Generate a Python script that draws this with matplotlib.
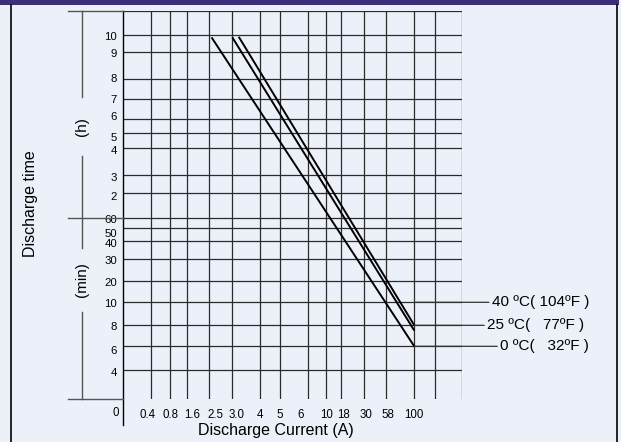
import numpy as np
import matplotlib
matplotlib.use('Agg')
import matplotlib.pyplot as plt
from matplotlib.transforms import blended_transform_factory, ScaledTranslation
from matplotlib.patches import Rectangle
from matplotlib.lines import Line2D

plt.rcParams['font.family'] = ['Liberation Sans', 'DejaVu Sans']

# discharge current axis (A): tick values and where they sit on the grid (fraction of width)
x_scale_values = [0, 0.4, 0.8, 1.6, 2.5, 3.0, 4, 5, 6, 10, 18, 30, 58, 100, 130, 160]
x_scale_pos = [0, 0.0819, 0.1389, 0.1874, 0.2524, 0.3221, 0.4048, 0.4631, 0.5467,
               0.5981, 0.6442, 0.7122, 0.7763, 0.8599, 0.9220, 1.0]
x_tick_values = [0.4, 0.8, 1.6, 2.5, 3.0, 4, 5, 6, 10, 18, 30, 58, 100]
x_tick_labels = ['0.4', '0.8', '1.6', '2.5', '3.0', '4', '5', '6', '10', '18', '30', '58', '100']

# discharge time axis (minutes): hours above 60 min
y_scale_values = [0, 4, 6, 8, 10, 20, 30, 40, 50, 60, 120, 180, 240, 300, 360, 420, 480, 540, 600, 660]
y_scale_pos = [0, 0.0747, 0.1358, 0.1899, 0.2492, 0.3034, 0.3616, 0.4064, 0.4399, 0.4673,
               0.5317, 0.5781, 0.6461, 0.6863, 0.7209, 0.7724, 0.8247, 0.8936, 0.9389, 1.0]
y_tick_values = [4, 6, 8, 10, 20, 30, 40, 50, 60, 120, 180, 240, 300, 360, 420, 480, 540, 600]
y_tick_labels = ['4', '6', '8', '10', '20', '30', '40', '50', '60',
                 '2', '3', '4', '5', '6', '7', '8', '9', '10']

# discharge curves: (current A, time min) at both ends
temps = ['40 ºC( 104ºF )', '25 ºC(   77ºF )', '0 ºC(   32ºF )']
curve_current = [[3.23, 100], [3.0, 100], [2.56, 100]]
curve_time = [[593, 8], [591, 7.5], [591, 6]]
label_level = [10, 8, 6]          # minutes, where each label is pointed at
label_x = [1.0887, 1.0748, 1.1132]  # axes fraction

# small hand-set nudges of the tick labels (pixels), as in the original drawing
x_label_dx = [-3, -0.3, 5.8, 6.3, 3.9, -0.3, -0.3, -7.5, 1, 2.7, 1.4, 2.3, -0.6]
y_label_dy = [1.8, 3.5, 0.5, 0.9, 0.4, 1.3, 1.7, 4.7, 1.8, 3.1, 2.5, 1.2, 4.0, -3.0, 0, -0.7, 1.0, 0.8]

BG = '#ECF0F9'
GRID = '#2b2b2b'


def fwd_x(v):
    return np.interp(v, x_scale_values, x_scale_pos)


def inv_x(p):
    return np.interp(p, x_scale_pos, x_scale_values)


def fwd_y(v):
    return np.interp(v, y_scale_values, y_scale_pos)


def inv_y(p):
    return np.interp(p, y_scale_pos, y_scale_values)


fig = plt.figure(figsize=(6.21, 4.42), dpi=100, facecolor=BG)
W, H = 621, 442
ax = fig.add_axes([123.3 / W, 1 - 399 / H, 338.4 / W, 388 / H])
ax.set_facecolor(BG)
ax.set_xscale('function', functions=(fwd_x, inv_x))
ax.set_yscale('function', functions=(fwd_y, inv_y))
ax.set_xlim(0, 160)
ax.set_ylim(0, 660)

ax.set_xticks(x_tick_values)
ax.set_xticklabels(x_tick_labels, fontsize=8.3)
ax.set_xticks([130, 160], minor=True)
ax.set_yticks(y_tick_values)
ax.set_yticklabels(y_tick_labels, fontsize=8.2)
ax.set_yticks([660], minor=True)
ax.tick_params(which='both', length=0)
ax.tick_params(axis='x', pad=7)
ax.tick_params(axis='y', pad=4.5)
ax.grid(True, which='both', color=GRID, linewidth=0.9)
for s in ax.spines.values():
    s.set_visible(False)
ax.set_axisbelow(True)

for lab, dx in zip(ax.get_xticklabels(), x_label_dx):
    lab.set_transform(lab.get_transform() + ScaledTranslation(dx / 100, 0, fig.dpi_scale_trans))
for lab, dy in zip(ax.get_yticklabels(), y_label_dy):
    lab.set_transform(lab.get_transform() + ScaledTranslation(0, -dy / 100, fig.dpi_scale_trans))

# x origin label
ax.annotate('0', xy=(0, 0), xytext=(-3, -10), textcoords='offset points',
            ha='right', va='center', fontsize=8.3)

# left axis line running below the grid
ax.plot([0, 0], [1, -0.067], transform=ax.transAxes, color='black', lw=1.0, clip_on=False)

# curves
for cur, t in zip(curve_current, curve_time):
    ax.plot(cur, t, color='black', lw=1.4, solid_capstyle='butt')

# labels with leader lines
tr = blended_transform_factory(ax.transAxes, ax.transData)
for name, lvl, lx in zip(temps, label_level, label_x):
    ax.annotate(name, xy=(100, lvl), xycoords='data', xytext=(lx, lvl), textcoords=tr,
                ha='left', va='center', fontsize=11, annotation_clip=False,
                arrowprops=dict(arrowstyle='-', color='#333333', lw=0.9, shrinkA=0, shrinkB=0))

# hour / minute brackets on the left
bx = -0.122
for lvl in [660, 60, 0]:
    ax.plot([-0.163, 0], [lvl, lvl], transform=tr, color='#555555', lw=1.0, clip_on=False)
for y0, y1 in [(1.0, 0.778), (0.626, 0.389), (0.224, 0.0)]:
    ax.plot([bx, bx], [y0, y1], transform=ax.transAxes, color='#555555', lw=1.0, clip_on=False)
ax.text(bx, 0.7023, '(h)', transform=ax.transAxes, rotation=90, ha='center', va='center', fontsize=11)
ax.text(bx, 0.3067, '(min)', transform=ax.transAxes, rotation=90, ha='center', va='center', fontsize=11)

fig.text(30 / W, 1 - 204 / H, 'Discharge time', rotation=90, ha='center', va='center', fontsize=11.5)
fig.text(275.5 / W, 1 - 430 / H, 'Discharge Current (A)', ha='center', va='center', fontsize=11.5)

# header bar and frame
fig.patches.append(Rectangle((0, 1 - 5 / H), 619 / W, 5 / H, transform=fig.transFigure,
                             facecolor='#3B2F7A', edgecolor='none'))
fig.lines.append(Line2D([10.7 / W, 10.7 / W], [0, 1 - 5 / H], transform=fig.transFigure, color='black', lw=1.2))
fig.lines.append(Line2D([617 / W, 617 / W], [0, 1 - 5 / H], transform=fig.transFigure, color='black', lw=1.2))

fig.savefig('out.png', dpi=100, facecolor=BG)
